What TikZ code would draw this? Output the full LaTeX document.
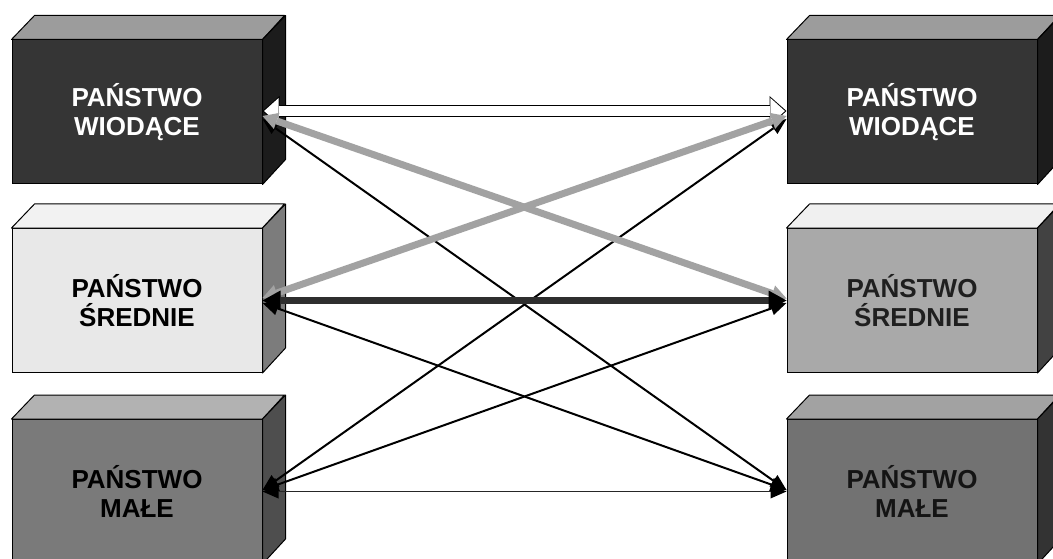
\documentclass[tikz,border=0pt]{standalone}
\usepackage{fontspec}
\setmainfont{Liberation Sans}
\usetikzlibrary{arrows.meta,calc}
\definecolor{darkfront}{HTML}{353535}
\definecolor{darktop}{HTML}{9C9C9C}
\definecolor{darkside}{HTML}{1C1C1C}
\definecolor{lightfront}{HTML}{E8E8E8}
\definecolor{lighttop}{HTML}{F2F2F2}
\definecolor{lightside}{HTML}{7C7C7C}
\definecolor{midfront}{HTML}{7A7A7A}
\definecolor{midtop}{HTML}{B2B2B2}
\definecolor{midside}{HTML}{4E4E4E}
\definecolor{rmfront}{HTML}{A9A9A9}
\definecolor{rmtop}{HTML}{F0F0F0}
\definecolor{rmside}{HTML}{424242}
\definecolor{rbfront}{HTML}{727272}
\definecolor{rbtop}{HTML}{A2A2A2}
\definecolor{rbside}{HTML}{333333}
\definecolor{grayarrow}{HTML}{A2A2A2}
\definecolor{darkarrow}{HTML}{2E2E2E}
\newcommand{\drawcubefaces}[3]{%
  \filldraw[fill=#2, draw=black, line width=1pt, line join=round]
    (#1.north west) -- ++(23,-24) -- ++(250,0) -- (#1.north east) -- cycle;
  \filldraw[fill=#3, draw=black, line width=1pt, line join=round]
    (#1.north east) -- ++(23,-24) -- ++(0,144) -- (#1.south east) -- cycle;}
\begin{document}
\begin{tikzpicture}[x=1pt,y=-1pt,
  cube/.style={draw=black, line width=1pt, minimum width=250pt, minimum height=144pt,
    inner sep=0pt, align=center, font=\fontsize{26}{28.5}\selectfont\bfseries},
  outerwhite/.style={black, line width=12pt,
    {Triangle[length=17pt,width=30pt,line width=0pt]}-{Triangle[length=17pt,width=30pt,line width=0pt]}},
  innerwhite/.style={white, line width=10pt, shorten <=1.6pt, shorten >=1.6pt,
    {Triangle[length=14.5pt,width=26pt,line width=0pt]}-{Triangle[length=14.5pt,width=26pt,line width=0pt]}},
  grayarr/.style={grayarrow, line width=7pt,
    {Triangle[length=15pt,width=17pt,line width=0pt]}-{Triangle[length=15pt,width=17pt,line width=0pt]}},
  darkarr/.style={darkarrow, line width=7pt,
    {Triangle[length=18pt,width=20pt,line width=0pt,black]}-{Triangle[length=18pt,width=20pt,line width=0pt,black]}},
  thinarr/.style={black, line width=2pt, {Triangle[length=16pt,width=14pt,line width=0pt]}-{Triangle[length=16pt,width=14pt,line width=0pt]}},
  hairarr/.style={black!85, line width=1.4pt, {Triangle[length=16pt,width=14pt,line width=0pt,black]}-{Triangle[length=16pt,width=14pt,line width=0pt,black]}}
]
\clip (0,0) rectangle (1053,559);
\fill[white] (0,0) rectangle (1053,559);

% boxes
\node[cube, fill=darkfront, text=white] (lt) at (137,112) {PAŃSTWO\\WIODĄCE};
\node[cube, fill=lightfront, text=black] (lm) at (137,300.5) {PAŃSTWO\\ŚREDNIE};
\node[cube, fill=midfront, text=black] (lb) at (137,491.5) {PAŃSTWO\\MAŁE};
\node[cube, fill=darkfront, text=white] (rt) at (912,112) {PAŃSTWO\\WIODĄCE};
\node[cube, fill=rmfront, text=black!88] (rm) at (912,300.5) {PAŃSTWO\\ŚREDNIE};
\node[cube, fill=rbfront, text=black!92] (rb) at (912,491.5) {PAŃSTWO\\MAŁE};
\drawcubefaces{lt}{darktop}{darkside}
\drawcubefaces{lm}{lighttop}{lightside}
\drawcubefaces{lb}{midtop}{midside}
\drawcubefaces{rt}{darktop}{darkside}
\drawcubefaces{rm}{rmtop}{rmside}
\drawcubefaces{rb}{rbtop}{rbside}

% connector end points
\coordinate (ltA) at ($(lt.east)+(0,-1)$);
\coordinate (ltB) at ($(lt.east)+(0,4)$);
\coordinate (ltC) at ($(lt.east)+(0,7)$);
\coordinate (lmA) at ($(lm.east)+(0,-2.5)$);
\coordinate (lmB) at (lm.east);
\coordinate (lmC) at ($(lm.east)+(0,2.5)$);
\coordinate (lbA) at ($(lb.east)+(0,-1.5)$);
\coordinate (lbB) at (lb.east);
\coordinate (rtA) at ($(rt.west)+(0,-1)$);
\coordinate (rtB) at ($(rt.west)+(0,4)$);
\coordinate (rtC) at ($(rt.west)+(0,7)$);
\coordinate (rmA) at ($(rm.west)+(0,-2)$);
\coordinate (rmB) at (rm.west);
\coordinate (rmC) at ($(rm.west)+(0,2.5)$);
\coordinate (rbA) at ($(rb.west)+(0,-1.5)$);
\coordinate (rbB) at (rb.west);

% connectors
\draw[outerwhite] (ltA) -- (rtA);
\draw[innerwhite] (ltA) -- (rtA);
\draw[thinarr] (ltC) -- (rbA);
\draw[thinarr] (lbA) -- (rtC);
\draw[thinarr] (lmC) -- (rbA);
\draw[thinarr] (lbA) -- (rmC);
\draw[hairarr] (lbB) -- (rbB);
\draw[grayarr] (ltB) -- (rmA);
\draw[grayarr] (lmA) -- (rtB);
\draw[darkarr] (lmB) -- (rmB);
\end{tikzpicture}
\end{document}
